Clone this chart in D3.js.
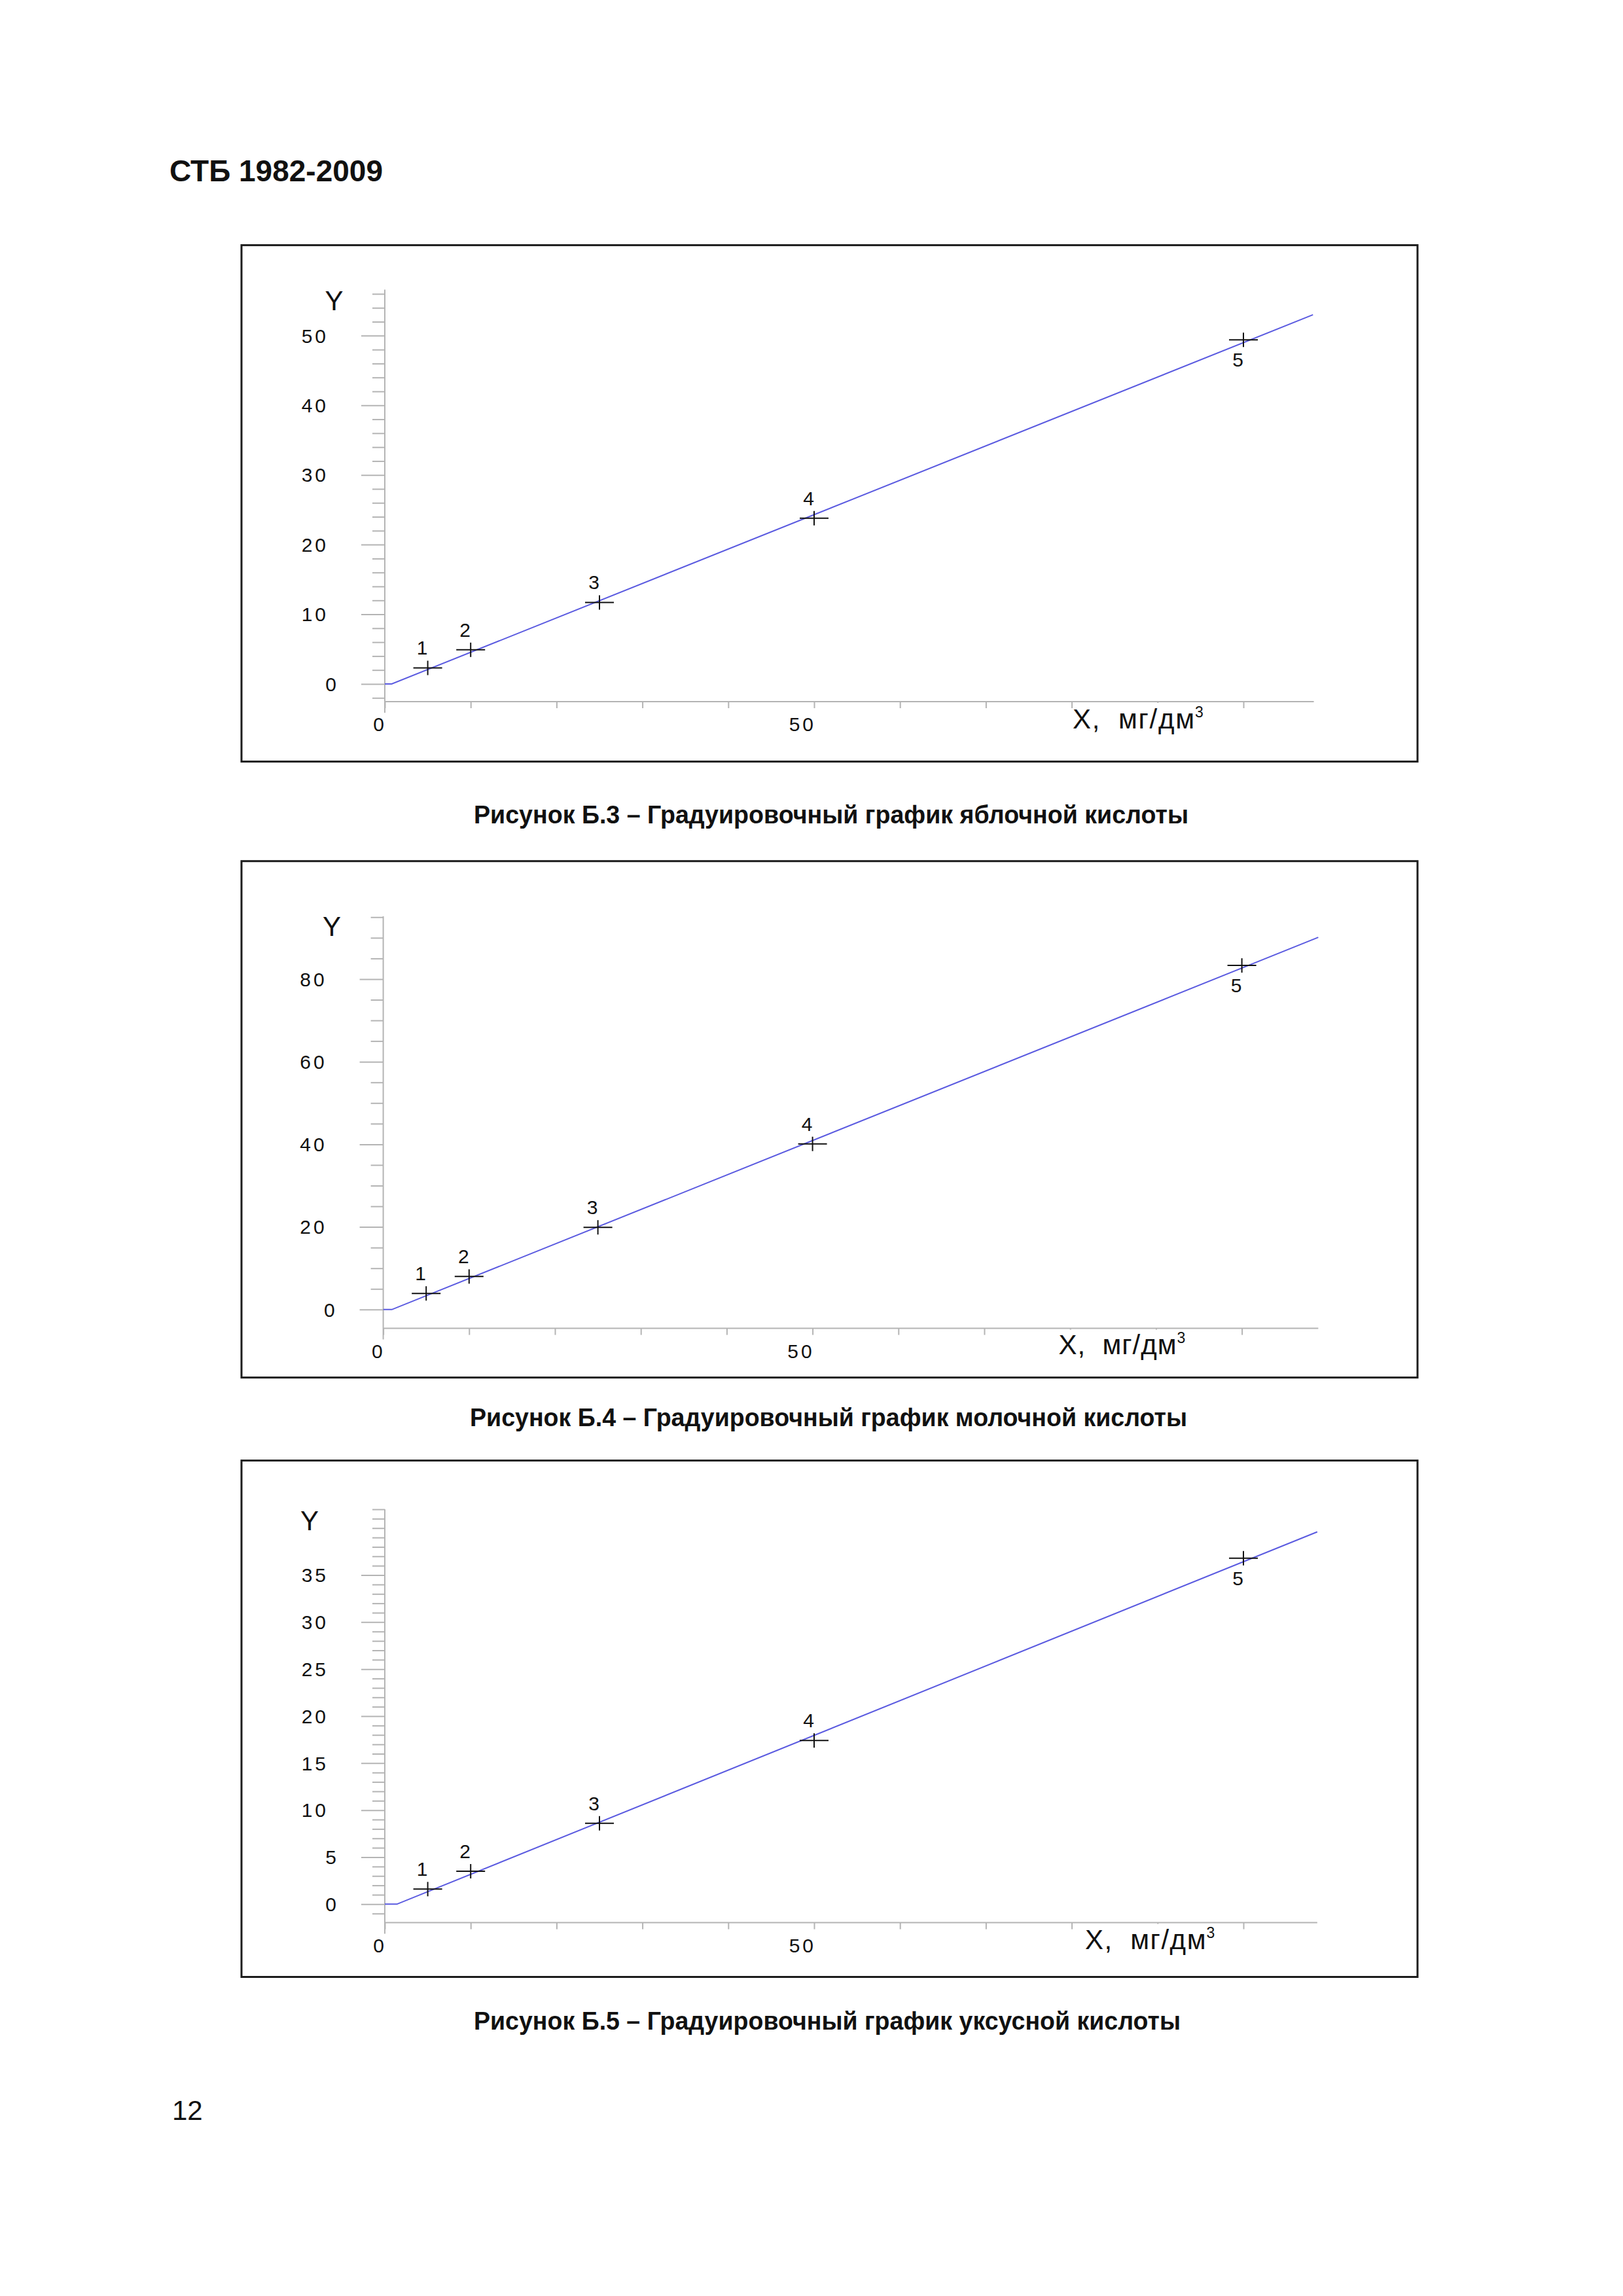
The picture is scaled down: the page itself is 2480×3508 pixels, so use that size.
<!DOCTYPE html>
<html><head><meta charset="utf-8">
<script src="https://cdn.jsdelivr.net/npm/d3@7"></script>
<style>body{margin:0;background:#fff} svg{display:block}</style>
</head><body>
<script>
// ---------- DATA ----------
const headerText = "СТБ 1982-2009";
const pageNumber = "12";
const pointNumbers = ["1", "2", "3", "4", "5"];
const concX = [5, 10, 25, 50, 100];                  // X, мг/дм3
const malicY  = [2.3, 4.9, 11.7, 23.8, 49.4];        // яблочная кислота
const lacticY = [3.9, 8.0, 19.9, 40.1, 83.3];        // молочная кислота
const aceticY = [1.6, 3.5, 8.6, 17.4, 36.8];         // уксусная кислота
const malicLineX  = [0, 0.8, 108.1];  const malicLineY  = [0, 0, 53.0];
const lacticLineX = [0, 1.0, 108.9];  const lacticLineY = [0, 0, 90.1];
const aceticLineX = [0, 1.4, 108.6];  const aceticLineY = [0, 0, 39.6];
const malicYTicks  = [0, 10, 20, 30, 40, 50];
const lacticYTicks = [0, 20, 40, 60, 80];
const aceticYTicks = [0, 5, 10, 15, 20, 25, 30, 35];
const xTicks = [0, 10, 20, 30, 40, 50, 60, 70, 80, 90, 100];
const xTickLabels = [0, 50];
const yAxisTitle = "Y";
const xAxisTitle = "X,  мг/дм";
const xAxisTitleSup = "3";
const captions = [
  "Рисунок Б.3 – Градуировочный график яблочной кислоты",
  "Рисунок Б.4 – Градуировочный график молочной кислоты",
  "Рисунок Б.5 – Градуировочный график уксусной кислоты"
];

// ---------- LAYOUT ----------
const W = 2480, H = 3508;
const FONT = "'Liberation Sans', Arial, sans-serif";
const AXIS_COL = "#b4b4b4", LINE_COL = "#5a5ae0", INK = "#111";

const panels = [
  { ys: malicY, lx: malicLineX, ly: malicLineY, yTicks: malicYTicks, minor: 2,
    frameTop: 374.6, xAxisY: 1072, yAxisTop: 442.6, yMin: -2.54, yMax: 56.6,
    yAxisX: 588, xMax: 108.2, yLabX: 496.6, yLabBase: 474,
    xLabX: 1639, xLabW: 186, xLabBase: 1113, capX: 724, capW: 1092, capBase: 1258 },
  { ys: lacticY, lx: lacticLineX, ly: lacticLineY, yTicks: lacticYTicks, minor: 5,
    frameTop: 1315.7, xAxisY: 2029.6, yAxisTop: 1400, yMin: -4.56, yMax: 95.2,
    yAxisX: 585.6, xMax: 108.9, yLabX: 493, yLabBase: 1430,
    xLabX: 1617.5, xLabW: 180, xLabBase: 2069, capX: 718, capW: 1096, capBase: 2179 },
  { ys: aceticY, lx: aceticLineX, ly: aceticLineY, yTicks: aceticYTicks, minor: 1,
    frameTop: 2231.5, xAxisY: 2937.6, yAxisTop: 2306, yMin: -1.97, yMax: 42.0,
    yAxisX: 588, xMax: 108.6, yLabX: 459, yLabBase: 2338,
    xLabX: 1658, xLabW: 184.5, xLabBase: 2978, capX: 724, capW: 1080, capBase: 3101 }
];
const frameX = 369, frameW = 1797, frameH = 789;
const PX_PER_X = 13.12;

const svg = d3.select("body").append("svg")
  .attr("width", W).attr("height", H).attr("viewBox", `0 0 ${W} ${H}`)
  .style("font-family", FONT);
svg.append("rect").attr("width", W).attr("height", H).attr("fill", "#fff");

// header & page number
svg.append("text").attr("x", 259).attr("y", 276.6)
  .attr("font-size", 46).attr("font-weight", "bold").attr("fill", INK).text(headerText);
svg.append("text").attr("x", 263).attr("y", 3239)
  .attr("font-size", 42).attr("fill", INK).text(pageNumber);

panels.forEach((p, pi) => {
  const g = svg.append("g");
  const x = d3.scaleLinear().domain([0, p.xMax]).range([p.yAxisX, p.yAxisX + p.xMax * PX_PER_X]);
  const y = d3.scaleLinear().domain([p.yMin, p.yMax]).range([p.xAxisY, p.yAxisTop]);

  // frame
  g.append("rect").attr("x", frameX).attr("y", p.frameTop)
    .attr("width", frameW).attr("height", frameH)
    .attr("fill", "none").attr("stroke", "#1c1c1c").attr("stroke-width", 3);

  // Y axis: minor + major ticks
  const minorVals = d3.range(Math.ceil(p.yMin / p.minor) * p.minor, p.yMax + 1e-9, p.minor)
    .filter(v => !p.yTicks.includes(v));
  const yMinorAxis = d3.axisLeft(y).tickValues(minorVals).tickSize(19).tickFormat("");
  const yMajorAxis = d3.axisLeft(y).tickValues(p.yTicks).tickSize(36).tickFormat("");
  [yMinorAxis, yMajorAxis].forEach(ax => {
    const ga = g.append("g").attr("transform", `translate(${p.yAxisX},0)`).call(ax);
    ga.select(".domain").remove();
    ga.selectAll("line").attr("stroke", AXIS_COL).attr("stroke-width", 2);
  });
  g.append("line").attr("x1", p.yAxisX).attr("x2", p.yAxisX)
    .attr("y1", y(p.yMax)).attr("y2", p.xAxisY + 17)
    .attr("stroke", AXIS_COL).attr("stroke-width", 2);

  // y tick labels
  g.selectAll(".ylab").data(p.yTicks).join("text")
    .attr("x", d => p.yAxisX - (String(d).length === 1 ? 74 : 90) + 4)
    .attr("y", d => y(d)).attr("dy", "0.36em")
    .attr("text-anchor", "end").attr("font-size", 30).attr("letter-spacing", 4)
    .attr("fill", INK).text(d => d);

  // Y title
  g.append("text").attr("x", p.yLabX).attr("y", p.yLabBase)
    .attr("font-size", 42).attr("fill", INK).text(yAxisTitle);

  // X axis
  const xAxis = d3.axisBottom(x).tickValues(xTicks).tickSize(10).tickFormat("");
  const gx = g.append("g").attr("transform", `translate(0,${p.xAxisY})`).call(xAxis);
  gx.select(".domain").remove();
  gx.selectAll("line").attr("stroke", AXIS_COL).attr("stroke-width", 2);
  g.append("line").attr("x1", x(0)).attr("x2", x(p.xMax))
    .attr("y1", p.xAxisY).attr("y2", p.xAxisY)
    .attr("stroke", AXIS_COL).attr("stroke-width", 2);

  g.selectAll(".xlab").data(xTickLabels).join("text")
    .attr("x", d => x(d) + 3).attr("y", p.xAxisY + 45)
    .attr("text-anchor", "end").attr("font-size", 30).attr("letter-spacing", 4)
    .attr("fill", INK).text(d => d);

  // X title with white backing
  g.append("rect").attr("x", p.xLabX + 4).attr("y", p.xAxisY + 2)
    .attr("width", p.xLabW + 22).attr("height", p.xLabBase - p.xAxisY + 8)
    .attr("fill", "#fff");
  g.append("text").attr("x", p.xLabX).attr("y", p.xLabBase)
    .attr("font-size", 42).attr("fill", INK)
    .attr("textLength", p.xLabW).attr("lengthAdjust", "spacing")
    .style("white-space", "pre").text(xAxisTitle);
  g.append("text").attr("x", p.xLabX + p.xLabW + 1).attr("y", p.xLabBase - 17)
    .attr("font-size", 23).attr("fill", INK).text(xAxisTitleSup);

  // calibration line
  const lineData = p.lx.map((v, i) => [v, p.ly[i]]);
  g.append("path").datum(lineData)
    .attr("d", d3.line().x(d => x(d[0])).y(d => y(d[1])))
    .attr("fill", "none").attr("stroke", LINE_COL).attr("stroke-width", 2);

  // points (crosses)
  const pts = concX.map((v, i) => ({ x: v, y: p.ys[i], n: pointNumbers[i], i }));
  const cg = g.selectAll(".pt").data(pts).join("g")
    .attr("transform", d => `translate(${x(d.x)},${y(d.y)})`);
  cg.append("line").attr("x1", -22).attr("x2", 22).attr("y1", 0).attr("y2", 0)
    .attr("stroke", INK).attr("stroke-width", 2);
  cg.append("line").attr("x1", 0).attr("x2", 0).attr("y1", -11).attr("y2", 11)
    .attr("stroke", INK).attr("stroke-width", 2);
  cg.append("text").attr("x", -8.5)
    .attr("y", d => d.i === 4 ? 41 : -20)
    .attr("text-anchor", "middle").attr("font-size", 30).attr("fill", INK)
    .text(d => d.n);

  // caption
  svg.append("text").attr("x", p.capX).attr("y", p.capBase)
    .attr("font-size", 39).attr("font-weight", "bold").attr("fill", INK)
    .attr("textLength", p.capW).attr("lengthAdjust", "spacingAndGlyphs")
    .text(captions[pi]);
});
</script>
</body></html>
